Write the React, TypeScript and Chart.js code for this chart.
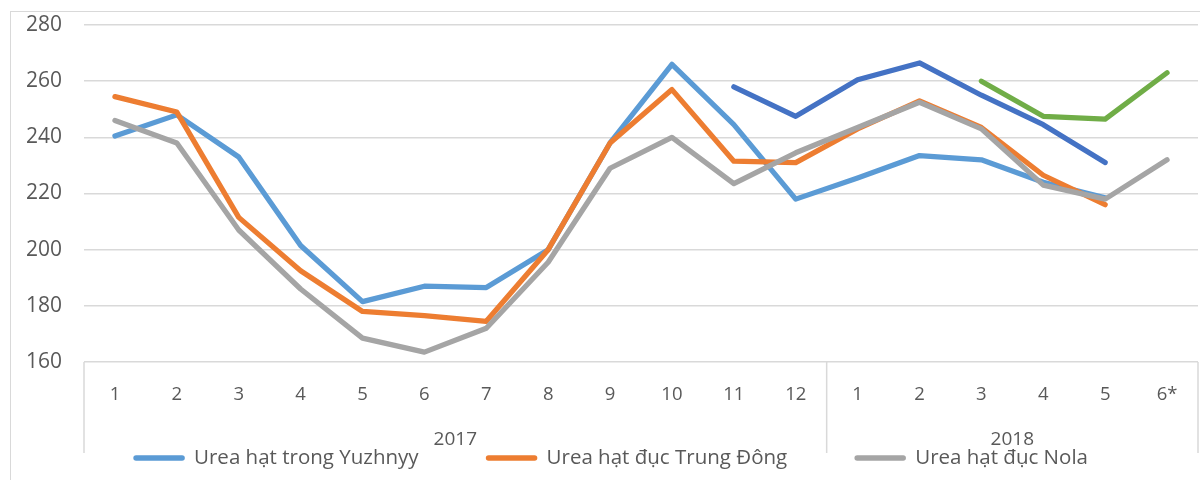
import { useEffect, useRef } from "react";
import { Chart, registerables } from "chart.js";

Chart.register(...registerables);

const monthLabels = ["1", "2", "3", "4", "5", "6", "7", "8", "9", "10", "11", "12", "1", "2", "3", "4", "5", "6*"];
const yearLabels = ["2017", "2018"];
const yearSpans = [12, 6];

const yuzhnyy = [240.5, 248, 233, 201.5, 181.5, 187, 186.5, 200, 238, 266, 244.5, 218, 225.5, 233.5, 232, 224, 218.5, null];
const trungDong = [254.5, 249, 211.5, 192.5, 178, 176.5, 174.5, 200, 238, 257, 231.5, 231, 243, 253, 243.5, 226.5, 216, null];
const nola = [246, 238, 207, 186, 168.5, 163.5, 172, 195.5, 229, 240, 223.5, 234.5, 243.5, 252.5, 243, 223, 218, 232];
const series4 = [null, null, null, null, null, null, null, null, null, null, 258, 247.5, 260.5, 266.5, 255, 244.5, 231, null];
const series5 = [null, null, null, null, null, null, null, null, null, null, null, null, null, null, 260, 247.5, 246.5, 263];

const yTicks = [160, 180, 200, 220, 240, 260, 280];

const FONT = "'Open Sans', sans-serif";
const TEXT = "#595959";
const GRID = "#d9d9d9";

const decorPlugin = {
  id: "decor",
  beforeDraw(chart: any) {
    const ctx = chart.ctx;
    ctx.save();
    ctx.strokeStyle = GRID;
    ctx.lineWidth = 1;
    ctx.strokeRect(10.5, 11.5, chart.width + 100, chart.height + 100);
    ctx.restore();
  },
  afterDraw(chart: any) {
    const ctx = chart.ctx;
    const xs = chart.scales.x;
    const ca = chart.chartArea;
    const step = xs.getPixelForValue(1) - xs.getPixelForValue(0);
    ctx.save();
    ctx.strokeStyle = GRID;
    ctx.lineWidth = 1.5;
    let idx = 0;
    const lineBottom = ca.bottom + 91;
    const drawV = (px: number) => {
      ctx.beginPath();
      ctx.moveTo(px, ca.bottom);
      ctx.lineTo(px, lineBottom);
      ctx.stroke();
    };
    ctx.fillStyle = TEXT;
    ctx.font = `19px ${FONT}`;
    ctx.textAlign = "center";
    ctx.textBaseline = "middle";
    yearLabels.forEach((yl, g) => {
      const start = xs.getPixelForValue(idx) - step / 2;
      const end = xs.getPixelForValue(idx + yearSpans[g] - 1) + step / 2;
      if (g === 0) drawV(start);
      drawV(end);
      ctx.fillText(yl, (start + end) / 2, ca.bottom + 78);
      idx += yearSpans[g];
    });

    // legend (first three series)
    const items = chart.data.datasets.slice(0, 3);
    const sample = 50;
    const gapText = 10;
    const gapItem = 68;
    ctx.font = `20.5px ${FONT}`;
    const widths = items.map((d: any) => sample + gapText + ctx.measureText(d.label).width);
    const total = widths.reduce((a: number, b: number) => a + b, 0) + gapItem * (items.length - 1);
    let x = 611 - total / 2;
    const ly = ca.bottom + 96;
    items.forEach((d: any, i: number) => {
      ctx.strokeStyle = d.borderColor;
      ctx.lineWidth = 5.5;
      ctx.lineCap = "round";
      ctx.beginPath();
      ctx.moveTo(x + 2, ly);
      ctx.lineTo(x + sample - 2, ly);
      ctx.stroke();
      ctx.fillStyle = TEXT;
      ctx.textAlign = "left";
      ctx.fillText(d.label, x + sample + gapText, ly);
      x += widths[i] + gapItem;
    });
    ctx.restore();
  },
};

export default function App() {
  const ref = useRef<HTMLCanvasElement | null>(null);
  useEffect(() => {
    if (!ref.current) return;
    const common = {
      borderWidth: 5.25,
      pointRadius: 0,
      tension: 0,
      borderCapStyle: "round",
      borderJoinStyle: "round",
      spanGaps: false,
      fill: false,
    };
    const chart = new Chart(ref.current, {
      type: "line",
      data: {
        labels: monthLabels,
        datasets: [
          { ...common, label: "Urea hạt trong Yuzhnyy", data: yuzhnyy, borderColor: "#5B9BD5", backgroundColor: "#5B9BD5", order: 5 },
          { ...common, label: "Urea hạt đục Trung Đông", data: trungDong, borderColor: "#ED7D31", backgroundColor: "#ED7D31", order: 4 },
          { ...common, label: "Urea hạt đục Nola", data: nola, borderColor: "#A5A5A5", backgroundColor: "#A5A5A5", order: 3 },
          { ...common, label: "Series 4", data: series4, borderColor: "#4472C4", backgroundColor: "#4472C4", order: 2 },
          { ...common, label: "Series 5", data: series5, borderColor: "#70AD47", backgroundColor: "#70AD47", order: 1 },
        ] as any,
      },
      options: {
        animation: false,
        responsive: false,
        layout: { autoPadding: false, padding: { left: 0, right: 2, top: 25, bottom: 0 } },
        plugins: { legend: { display: false }, tooltip: { enabled: false } },
        scales: {
          x: {
            offset: true,
            grid: { display: false, drawTicks: false },
            border: { display: false },
            ticks: { color: TEXT, font: { family: FONT, size: 18.5 }, padding: 22, maxRotation: 0, autoSkip: false },
            afterFit: (s: any) => { s.height = 118; s.paddingLeft = 0; s.paddingRight = 0; s.paddingTop = 0; s.paddingBottom = 0; },
          },
          y: {
            min: 160,
            max: 280,
            afterBuildTicks: (s: any) => { s.ticks = yTicks.map((v) => ({ value: v })); },
            grid: { color: GRID, lineWidth: 1.5, drawTicks: false },
            border: { display: false },
            ticks: { color: TEXT, font: { family: FONT, size: 21 }, padding: 22 },
            afterFit: (s: any) => { s.width = 84; s.paddingTop = 0; s.paddingBottom = 0; s.paddingLeft = 0; s.paddingRight = 0; },
          },
        },
      },
      plugins: [decorPlugin],
    });
    return () => chart.destroy();
  }, []);
  return (
    <div style={{ position: "absolute", left: 0, top: 0, width: 1200, height: 480, background: "#fff" }}>
      <canvas ref={ref} width={1200} height={480} style={{ display: "block" }} />
    </div>
  );
}
